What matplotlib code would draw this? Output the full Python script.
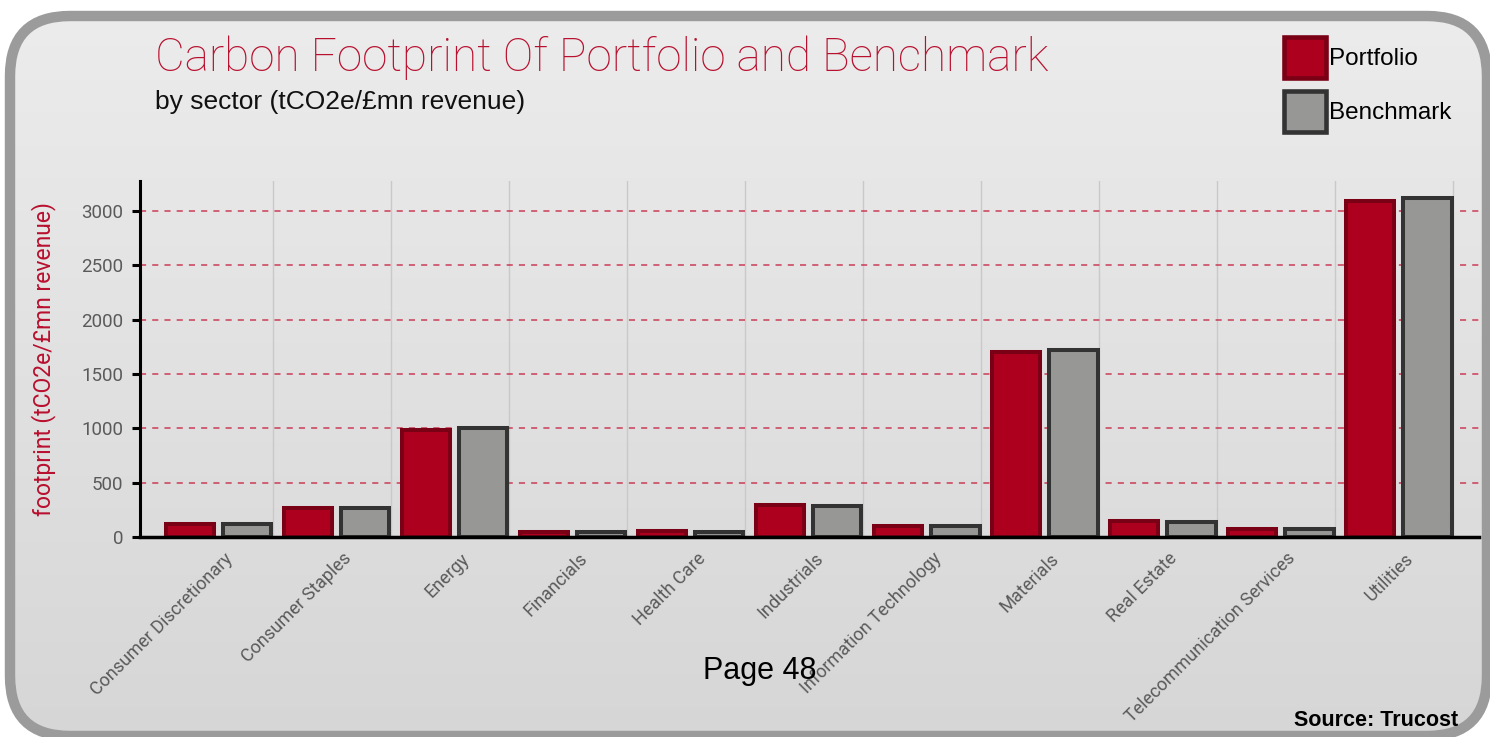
import matplotlib
matplotlib.use("Agg")
import matplotlib.pyplot as plt
import numpy as np
from matplotlib.patches import FancyBboxPatch, Patch
from matplotlib.transforms import ScaledTranslation

# data (tCO2e/£mn revenue)
sectors = ["Consumer Discretionary", "Consumer Staples", "Energy", "Financials",
           "Health Care", "Industrials", "Information Technology", "Materials",
           "Real Estate", "Telecommunication Services", "Utilities"]
portfolio = [120, 265, 980, 45, 53, 290, 105, 1703, 145, 78, 3090]
benchmark = [117, 263, 1003, 42, 50, 287, 100, 1716, 142, 74, 3117]
yticks = [0, 500, 1000, 1500, 2000, 2500, 3000]

RED = "#ad001f"
RED_EDGE = "#7a0016"
GREY = "#979795"
GREY_EDGE = "#333333"
TITLE_RED = "#b8102e"
LIGHT = "Roboto"

W, H = 1490, 737
fig = plt.figure(figsize=(W / 100, H / 100), dpi=100)
fig.patch.set_facecolor("white")

# rounded panel behind everything, pixel coords (y up)
bg = fig.add_axes([0, 0, 1, 1])
bg.set_xlim(0, W)
bg.set_ylim(0, H)
bg.axis("off")
box = FancyBboxPatch((10, 1), 1477, 720, boxstyle="round,pad=0,rounding_size=60",
                     facecolor="none", edgecolor="#9b9b9b", linewidth=7.5, zorder=3)
bg.add_patch(box)
grad = np.linspace(0, 1, 256).reshape(-1, 1)
img = bg.imshow(grad, cmap=matplotlib.colors.LinearSegmentedColormap.from_list(
    "bgc", ["#ececec", "#d6d6d6"]), extent=[6, 1492, -4, 725], aspect="auto",
    origin="upper", zorder=1)
img.set_clip_path(box)

# main chart
ax = fig.add_axes([140 / W, 1 - 537 / H, (1479 - 140) / W, (537 - 181) / H])
ax.patch.set_alpha(0)
x = np.arange(len(sectors))
bw = 0.41
off = 0.243
lw = 2.9
ax.bar(x - off, portfolio, bw, color=RED, edgecolor=RED_EDGE, linewidth=lw,
       label="Portfolio", zorder=3)
ax.bar(x + off, benchmark, bw, color=GREY, edgecolor=GREY_EDGE, linewidth=lw,
       label="Benchmark", zorder=3)

ax.set_xlim(-0.665, 10.68)
ax.set_ylim(0, 3275)
for xv in x + 0.458:
    ax.axvline(xv, color="#c9c9c9", linewidth=1, zorder=1)
for yv in yticks[1:]:
    ax.axhline(yv, color="#c8203f", linewidth=1.1, linestyle=(0, (4, 4)), alpha=0.85, zorder=2)

for s in ["top", "right"]:
    ax.spines[s].set_visible(False)
ax.spines["left"].set_linewidth(2.2)
ax.spines["bottom"].set_linewidth(2.5)
ax.spines["bottom"].set_zorder(5)

ax.set_yticks(yticks)
ax.set_yticklabels([str(v) for v in yticks], fontsize=13.5, color="#5a5a5a",
                   family=LIGHT)
ax.tick_params(axis="y", length=6, width=2.2, direction="out", pad=6)
ax.tick_params(axis="x", length=0)
ax.set_xticks(x)
ax.set_xticklabels(sectors, rotation=45, ha="right", va="center", rotation_mode="anchor",
                   fontsize=13, color="#5a5a5a", family=LIGHT)
shift = ScaledTranslation(12 / 100, -14 / 100, fig.dpi_scale_trans)
for lab in ax.get_xticklabels():
    lab.set_transform(lab.get_transform() + shift)

ax.set_ylabel("footprint (tCO2e/£mn revenue)", fontsize=16.5, color=TITLE_RED,
              family=LIGHT)
ax.yaxis.set_label_coords(-84 / (1479 - 140), 0.5)

fig.text(155 / W, 1 - 58 / H, "Carbon Footprint Of Portfolio and Benchmark", fontsize=33,
         color=TITLE_RED, family=LIGHT, fontweight="light", va="center", ha="left")
fig.text(155 / W, 1 - 102 / H, "by sector (tCO2e/£mn revenue)", fontsize=19,
         color="#111111", family="Liberation Sans", va="center", ha="left")

handles = [Patch(facecolor=RED, edgecolor=RED_EDGE, linewidth=3.3),
           Patch(facecolor=GREY, edgecolor=GREY_EDGE, linewidth=3.3)]
fig.legend(handles, ["Portfolio", "Benchmark"], loc="upper left",
           bbox_to_anchor=(1262 / W, 1 - 15 / H), frameon=False,
           prop={"family": "Liberation Sans", "size": 17.5},
           handlelength=1.75, handleheight=2.2, handletextpad=0.1, labelspacing=0.55)

fig.text(760 / W, 1 - 671 / H, "Page 48", fontsize=22, family="Liberation Sans",
         color="black", ha="center", va="center")
fig.text(1458 / W, 1 - 720 / H, "Source: Trucost", fontsize=15.5, family="Liberation Sans",
         fontweight="bold", color="black", ha="right", va="center")

fig.savefig("out.png", dpi=100)
